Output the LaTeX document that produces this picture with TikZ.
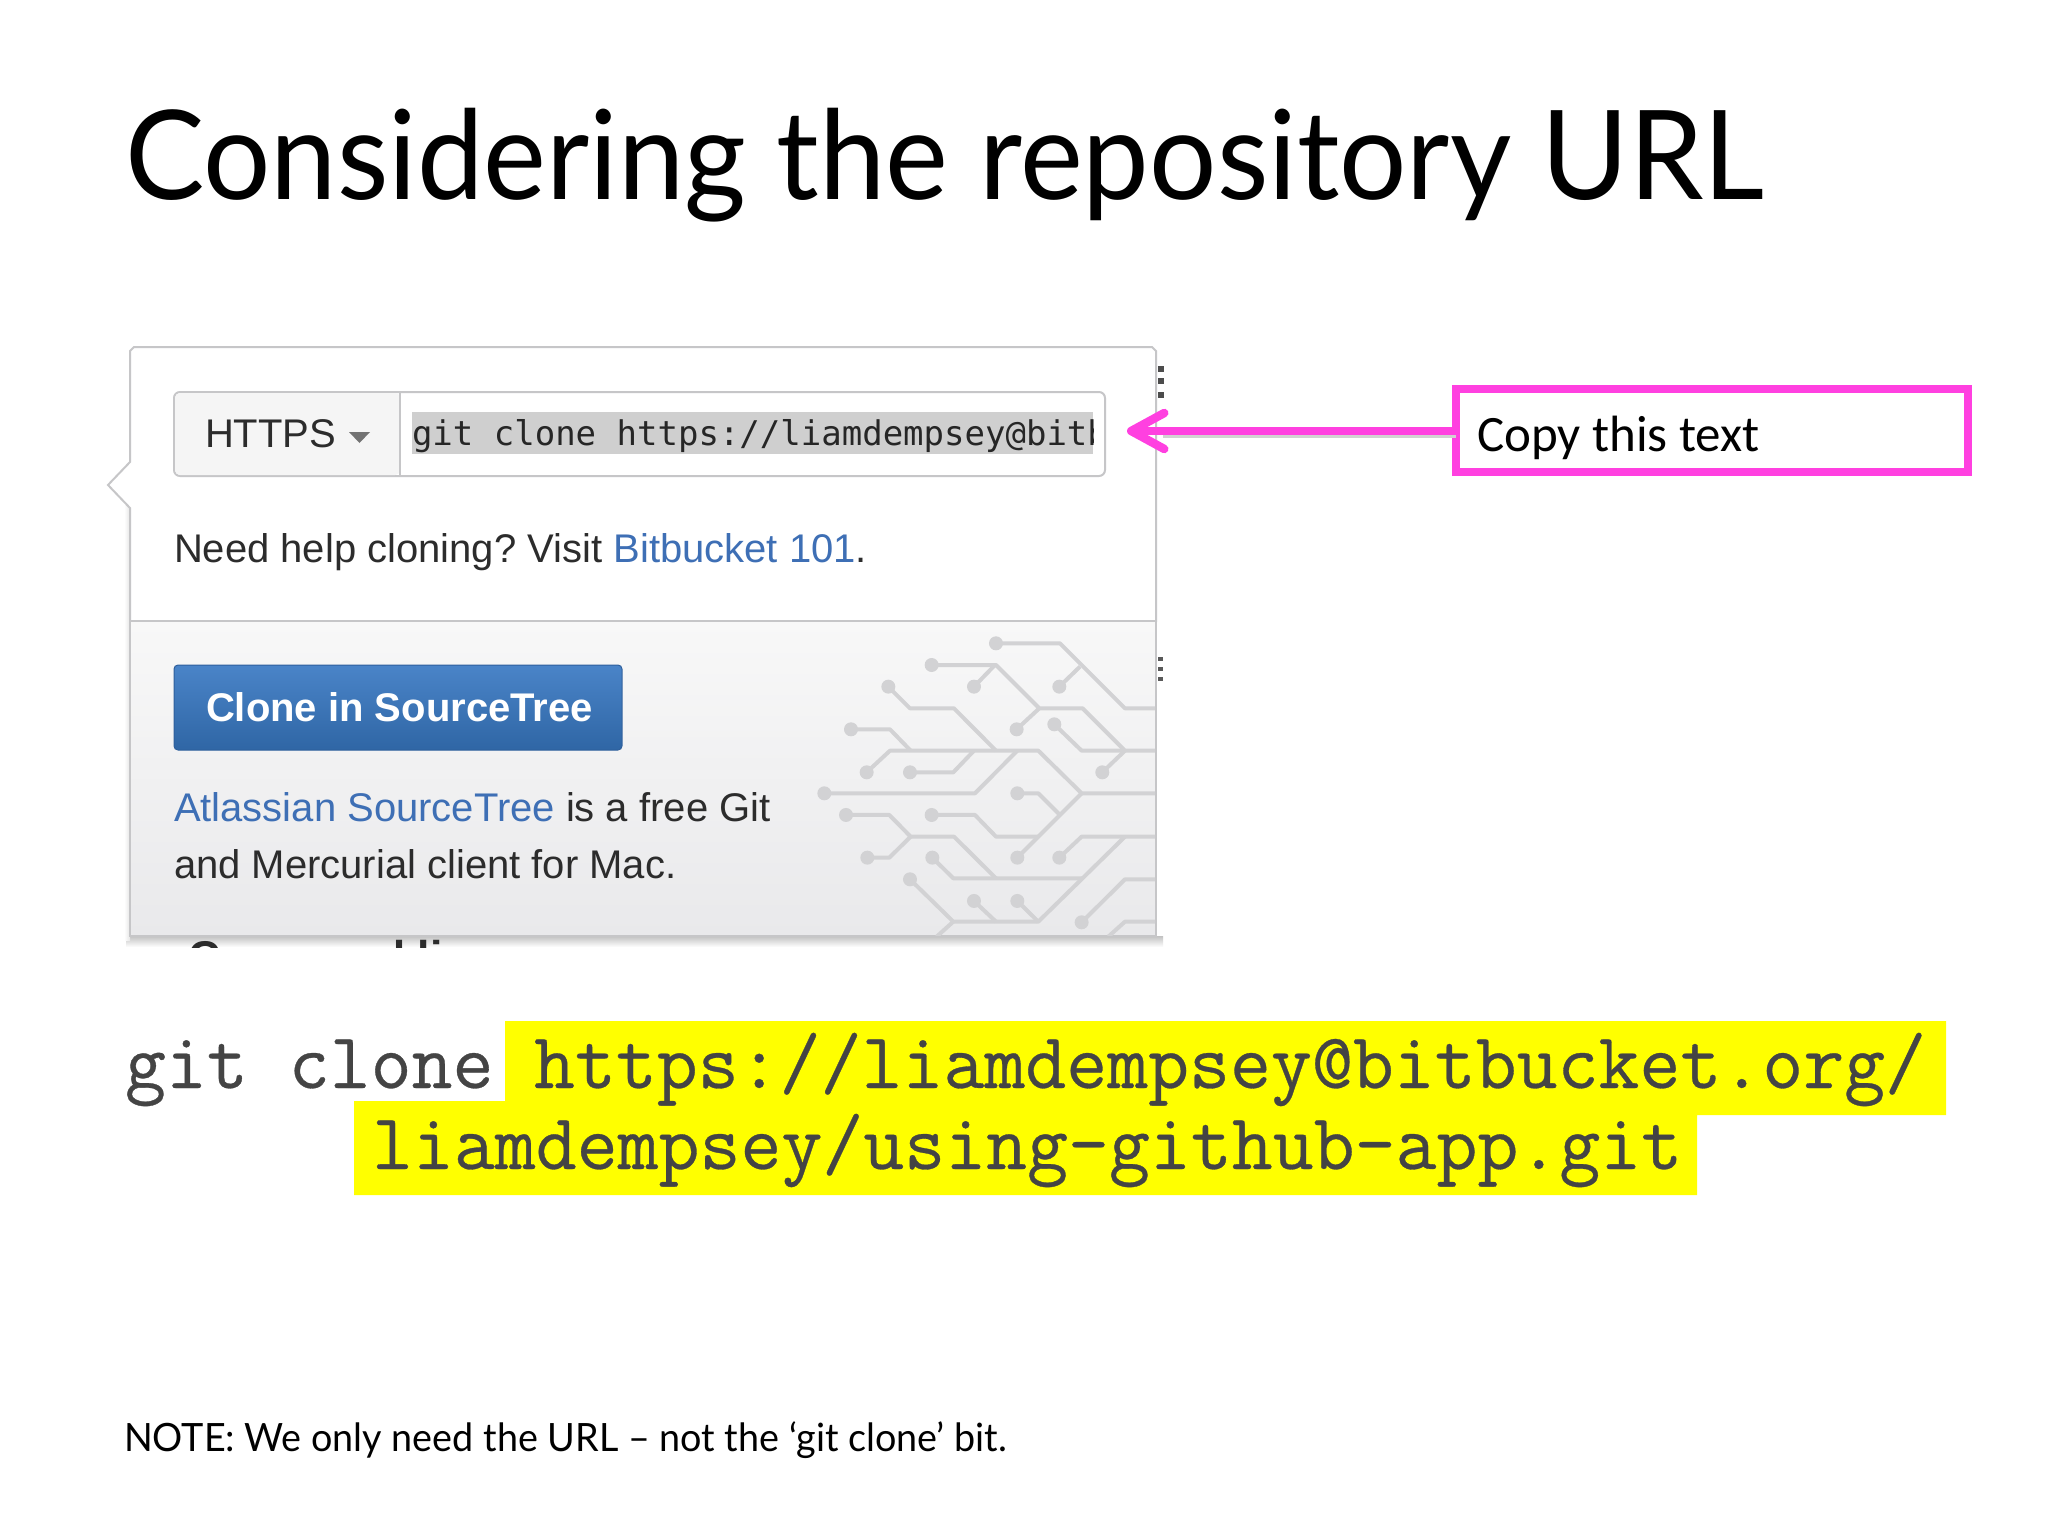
\documentclass[tikz,border=0pt]{standalone}
\usepackage{fontspec}
\usetikzlibrary{arrows.meta}
\setmainfont{Lato}
\setmonofont[FakeBold=0.4]{Latin Modern Mono}
\newfontfamily\ttlf[FakeStretch=0.959]{Lato}
\newfontfamily\notef[FakeStretch=0.967]{Lato}
\newfontfamily\helf{Liberation Sans}
\newfontfamily\carf{Carlito}
\newfontfamily\menlof{DejaVu Sans Mono}
\newcommand{\fs}[1]{\fontsize{#1pt}{#1pt}\selectfont}
\definecolor{mag}{RGB}{255,64,224}
\definecolor{hl}{RGB}{255,255,0}
\definecolor{lnk}{RGB}{62,111,181}
\definecolor{txtc}{RGB}{44,44,44}
\definecolor{cir}{RGB}{210,210,212}
\definecolor{bord}{RGB}{198,198,200}
\definecolor{btnA}{RGB}{74,132,200}
\definecolor{btnB}{RGB}{47,102,165}
\definecolor{btnE}{RGB}{46,95,156}
\definecolor{cmdc}{RGB}{68,68,68}
\definecolor{panA}{RGB}{248,248,248}
\definecolor{panB}{RGB}{233,233,235}
\tikzset{
  every node/.style={inner sep=0pt,outer sep=0pt},
  lab/.style={anchor=base west},
  trace/.style={draw=cir,line width=4pt,line join=round},
  pin/.style={fill=cir},
}
\newcommand{\pinat}[2]{\fill[pin] (#1,#2) circle (21);}
\begin{document}
\begin{tikzpicture}[x=1pt,y=-1pt]
\useasboundingbox (0,0) rectangle (2048,1536);
\fill[white] (0,0) rectangle (2048,1536);
\node[lab] (title) at (125,199) {\ttlf\fs{124}Considering the repository URL};
% panel shadow
\fill[top color=black!24,bottom color=white] (126,936) rectangle (1163,947);
\fill[left color=white,right color=black!10] (124,480) rectangle (130,940);
% panel
\path[draw=bord,line width=2pt,fill=white] (134,347) -- (1152,347) -- (1156,351) -- (1156,621) -- (130,621) -- (130,508) -- (108,485) -- (130,462) -- (130,351) -- cycle;
\path[draw=bord,line width=2pt,top color=panA,bottom color=panB] (130,621) rectangle (1156,936);
% circuit
\begin{scope}
\clip (131,622) rectangle (1155,935);
\begin{scope}[shift={(780,620)},x=0.3333pt,y=-0.3333pt]
\draw[trace] (648,70) -- (840,70) -- (1035,265) -- (1130,265);
\draw[trace] (838,200) -- (900,140);
\draw[trace] (455,135) -- (648,135) -- (778,265) -- (908,265) -- (1035,392) -- (1130,392);
\draw[trace] (582,200) -- (645,135);
\draw[trace] (710,328) -- (778,265);
\draw[trace] (325,200) -- (390,265) -- (522,265) -- (648,392);
\draw[trace] (213,328) -- (330,328) -- (392,392);
\draw[trace] (260,457) -- (330,392) -- (775,392) -- (905,520) -- (1130,520);
\draw[trace] (390,457) -- (520,457) -- (582,392);
\draw[trace] (133,520) -- (585,520) -- (712,392);
\draw[trace] (823,313) -- (905,392) -- (1035,392);
\draw[trace] (967,457) -- (1035,392);
\draw[trace] (712,520) -- (775,520) -- (840,585);
\draw[trace] (198,585) -- (328,585) -- (392,650) -- (522,650) -- (648,775);
\draw[trace] (262,713) -- (328,713) -- (392,650);
\draw[trace] (455,585) -- (585,585) -- (648,650) -- (775,650);
\draw[trace] (712,713) -- (905,520);
\draw[trace] (838,713) -- (905,650) -- (1130,650);
\draw[trace] (457,713) -- (520,775) -- (905,775);
\draw[trace] (390,778) -- (520,905) -- (775,905) -- (1035,650);
\draw[trace] (470,950) -- (520,905);
\draw[trace] (582,843) -- (648,905);
\draw[trace] (712,843) -- (775,905);
\draw[trace] (905,907) -- (1035,778) -- (1130,778);
\draw[trace] (985,950) -- (1035,905) -- (1130,905);
\foreach \a/\b in {648/70,838/200,455/135,582/200,710/328,325/200,213/328,260/457,390/457,133/520,823/313,967/457,712/520,198/585,262/713,455/585,712/713,838/713,457/713,390/778,582/843,712/843,905/907}{\pinat{\a}{\b}}
\end{scope}
\end{scope}
% input group
\draw[bord,line width=2pt,fill=white,rounded corners=6pt] (174,392) rectangle (1105,476);
\path[fill=black!4,rounded corners=5pt] (175,393) -- (400,393) -- (400,475) -- (175,475) -- cycle;
\draw[bord,line width=1.5pt] (400,392) -- (400,476);
\node[lab,text=txtc] (https) at (205,447) {\helf\fs{40}HTTPS};
\fill[black!55] (349,432) -- (370,432) -- (359.5,443) -- cycle;
\fill[black!19] (412,412) rectangle (1093,454);
\begin{scope}
\clip (412,405) rectangle (1093,460);
\node[lab,text=black!85] (code) at (412,445) {\menlof\fs{34}git clone https://liamdempsey@bitb};
\end{scope}
\node[lab,text=txtc] (help) at (174,562) {\helf\frenchspacing\fs{40}Need help cloning? Visit \textcolor{lnk}{Bitbucket 101}.};
% button
\path[draw=btnE,line width=1pt,rounded corners=4pt,top color=btnA,bottom color=btnB] (174,665) rectangle (622,750);
\node[lab,text=white] (btn) at (206,721) {\helf\bfseries\fs{40}Clone in SourceTree};
\node[lab,text=txtc] (src1) at (174,821) {\helf\fs{40}\textcolor{lnk}{Atlassian SourceTree} is a free Git};
\node[lab,text=txtc] (src2) at (174,878) {\helf\fs{40}and Mercurial client for Mac.};
\begin{scope}
\clip (150,938) rectangle (700,947);
\node[lab,text=txtc] (cmdl) at (188,972) {\helf\bfseries\fs{44.5}Command line};
\end{scope}
% right edge dots
\foreach \y in {366,378,392}{\fill[black!70] (1158,\y) rectangle (1164,\y+5.5);}
\foreach \y in {657,667,677}{\fill[black!65] (1158,\y) rectangle (1163,\y+4);}
% callout
\node[draw=mag,line width=8pt,minimum width=512pt,minimum height=83pt,anchor=north west] (copybox) at (1455.5,389) {};
\node[lab] (copytxt) at (1477,451) {\carf\fs{51}Copy this text};
\coordinate (tip) at (1127,431);
\draw[black!18,line width=4pt] ([yshift=-5pt]copybox.west |- tip) -- ([xshift=36pt,yshift=-5pt]tip);
\draw[mag,line width=8.5pt,-{Straight Barb[round,length=33pt,width=36pt,line width=8.5pt]}] (copybox.west |- tip) -- (tip);
% command
\fill[hl] (505,1021) -- (1946,1021) -- (1946,1115) -- (1697,1115) -- (1697,1195) -- (354,1195) -- (354,1101) -- (505,1101) -- cycle;
\node[lab,text=cmdc] (cmd1) at (125,1088) {\ttfamily\fs{79.5}git clone};
\node[lab,text=cmdc] (cmd2) at (534,1088) {\ttfamily\fs{79.5}https://liamdempsey@bitbucket.org/};
\node[lab,text=cmdc] (cmd3) at (372,1169) {\ttfamily\fs{79.5}liamdempsey/using-github-app.git};
\node[lab] (note) at (124,1451) {\notef\fs{39}NOTE: We only need the URL – not the ‘git clone’ bit.};
\end{tikzpicture}
\end{document}
